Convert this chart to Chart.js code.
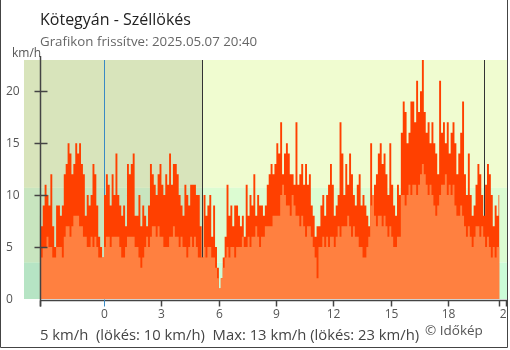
<!DOCTYPE html>
<html lang="hu">
<head>
<meta charset="utf-8">
<title>Kötegyán - Széllökés</title>
<script src="https://cdn.jsdelivr.net/npm/chart.js@4/dist/chart.umd.min.js"></script>
<style>
  html, body { margin: 0; padding: 0; background: #fff; }
</style>
</head>
<body>
<canvas id="windChart" width="510" height="350"></canvas>
<script>
const stationName = "Kötegyán";
const updatedAt = "2025.05.07 20:40";
const startHour = -(3 + 20 / 60);   // előző nap 20:40
const stepHours = 6 / 60;            // 6 perces mérések
const sunrise = 5.15;
const sunset = 19.87;
const yMax = 23;
const yTicks = [0, 5, 10, 15, 20];
const xTickHours = [0, 3, 6, 9, 12, 15, 18, 21];
const bandLimits = [3.5, 10.7];

// átlagszél, km/h
const windSpeed = [
  4, 4, 5, 5, 6, 5, 5, 4, 4, 5,
  5, 5, 4, 6, 7, 7, 6, 7, 8, 8,
  8, 7, 7, 6, 6, 5, 5, 6, 5, 6,
  5, 4, 4, 4, 5, 6, 6, 5, 6, 6,
  6, 6, 5, 4, 4, 5, 6, 6, 6, 6,
  5, 5, 4, 3, 4, 5, 6, 5, 6, 7,
  7, 6, 7, 6, 6, 5, 5, 5, 6, 6,
  7, 6, 6, 5, 6, 5, 5, 4, 5, 6,
  5, 6, 5, 4, 4, 4, 5, 4, 5, 5,
  4, 4, 3, 2, 1, 2, 3, 4, 5, 4,
  5, 5, 4, 5, 5, 5, 6, 5, 5, 6,
  5, 6, 6, 7, 6, 5, 6, 6, 7, 7,
  7, 7, 8, 8, 8, 8, 10, 11, 10, 9,
  9, 8, 10, 9, 8, 8, 7, 8, 7, 6,
  7, 7, 6, 5, 4, 2, 5, 5, 6, 5,
  6, 5, 6, 6, 5, 6, 7, 6, 7, 7,
  7, 8, 7, 6, 7, 6, 6, 5, 5, 4,
  4, 5, 6, 9, 10, 8, 7, 8, 8, 7,
  8, 7, 6, 7, 6, 5, 5, 6, 6, 10,
  10, 9, 10, 11, 10, 11, 11, 10, 11, 12,
  13, 12, 11, 10, 11, 10, 9, 8, 9, 10,
  11, 11, 12, 10, 11, 10, 11, 9, 8, 8,
  9, 8, 7, 6, 7, 6, 5, 6, 7, 7,
  6, 7, 6, 5, 6, 5, 4, 5, 4, 5, 5
];

// széllökés, km/h
const windGust = [
  8, 7, 9, 11, 10, 9, 12, 7, 5, 9,
  9, 8, 9, 12, 13, 15, 14, 12, 13, 15,
  14, 15, 13, 12, 8, 10, 9, 10, 13, 12,
  9, 6, 5, 4, 10, 12, 11, 9, 12, 10,
  14, 10, 9, 8, 9, 7, 13, 12, 13, 14,
  8, 8, 10, 7, 9, 8, 7, 9, 13, 12,
  11, 10, 12, 13, 11, 10, 12, 11, 14, 11,
  13, 13, 12, 10, 9, 8, 11, 10, 9, 11,
  11, 11, 10, 10, 7, 4, 10, 8, 9, 10,
  6, 9, 5, 3, 1, 2, 4, 6, 11, 8,
  9, 7, 9, 9, 8, 7, 8, 6, 11, 8,
  10, 9, 12, 8, 10, 9, 9, 8, 9, 11,
  12, 13, 12, 13, 15, 14, 17, 12, 14, 15,
  14, 12, 12, 11, 17, 11, 12, 13, 11, 13,
  11, 12, 9, 8, 6, 7, 7, 9, 10, 8,
  10, 11, 13, 11, 8, 9, 10, 17, 14, 10,
  13, 11, 14, 12, 10, 9, 11, 12, 9, 10,
  9, 8, 7, 15, 10, 11, 12, 14, 15, 13,
  14, 12, 10, 15, 11, 9, 8, 11, 10, 16,
  19, 18, 15, 16, 19, 19, 17, 21, 18, 20,
  23, 18, 16, 17, 15, 17, 15, 14, 12, 21,
  16, 17, 15, 17, 14, 16, 17, 15, 12, 14,
  16, 19, 12, 10, 14, 10, 8, 9, 11, 13,
  12, 10, 8, 11, 13, 12, 10, 7, 9, 8, 10
];

const toPoints = arr => arr.map((v, i) => ({ x: startHour + i * stepHours, y: v }));
const endHour = startHour + (windSpeed.length - 1) * stepHours;

const lastWind = windSpeed[windSpeed.length - 1];
const lastGust = windGust[windGust.length - 1];
const maxWind = Math.max(...windSpeed);
const maxGust = Math.max(...windGust);
const summaryText = lastWind + " km/h  (lökés: " + lastGust + " km/h)  Max: " +
  maxWind + " km/h (lökés: " + maxGust + " km/h)";

const FONT = "'Open Sans', 'Noto Sans', sans-serif";

// háttérsávok, éjszaka, napkelte/napnyugta vonalak, tengelyek, feliratok
const decor = {
  id: "decor",
  beforeDraw(chart) {
    const { ctx, chartArea: a, scales: { x, y } } = chart;
    const lo = y.getPixelForValue(bandLimits[0]);
    const hi = y.getPixelForValue(bandLimits[1]);
    const nightEnd = x.getPixelForValue(sunrise);
    const w = a.right - a.left;
    ctx.save();
    ctx.fillStyle = "#f0fcd0"; ctx.fillRect(a.left, a.top, w, hi - a.top);
    ctx.fillStyle = "#dcfcd2"; ctx.fillRect(a.left, hi, w, lo - hi);
    ctx.fillStyle = "#ccfcd8"; ctx.fillRect(a.left, lo, w, a.bottom - lo);
    const nw = nightEnd - a.left;
    ctx.fillStyle = "#d8e4bb"; ctx.fillRect(a.left, a.top, nw, hi - a.top);
    ctx.fillStyle = "#c8e5bf"; ctx.fillRect(a.left, hi, nw, lo - hi);
    ctx.fillStyle = "#b6e4c4"; ctx.fillRect(a.left, lo, nw, a.bottom - lo);
    ctx.restore();
  },
  beforeDatasetsDraw(chart) {
    const { ctx, chartArea: a, scales: { x } } = chart;
    ctx.save();
    ctx.lineWidth = 1;
    const vline = (h, color) => {
      const px = Math.round(x.getPixelForValue(h)) + 0.5;
      ctx.strokeStyle = color;
      ctx.beginPath(); ctx.moveTo(px, a.top); ctx.lineTo(px, a.bottom); ctx.stroke();
    };
    vline(0, "#3a8ac4");
    vline(sunrise, "#333");
    vline(sunset, "#333");
    ctx.restore();
  },
  afterDraw(chart) {
    const { ctx, chartArea: a, scales: { x, y } } = chart;
    const axisX = Math.round(x.getPixelForValue(startHour)) + 0.5;
    const axisY = a.bottom + 1.5;
    ctx.save();
    ctx.strokeStyle = "#444";
    ctx.lineWidth = 1.5;

    // y tengely
    ctx.beginPath(); ctx.moveTo(axisX, 56); ctx.lineTo(axisX, axisY + 6); ctx.stroke();
    ctx.fillStyle = "#555";
    ctx.font = "12px " + FONT;
    ctx.textBaseline = "middle";
    ctx.textAlign = "left";
    yTicks.forEach(v => {
      const py = Math.round(y.getPixelForValue(v)) + 0.5;
      if (v > 0) {
        ctx.beginPath(); ctx.moveTo(axisX - 6, py); ctx.lineTo(axisX + 7, py); ctx.stroke();
      }
      ctx.fillText(String(v), 6, py);
    });

    // x tengely
    ctx.beginPath(); ctx.moveTo(axisX, axisY); ctx.lineTo(a.right, axisY); ctx.stroke();
    [startHour, endHour].forEach(h => {
      const px = Math.round(x.getPixelForValue(h)) + 0.5;
      ctx.beginPath(); ctx.moveTo(px, axisY); ctx.lineTo(px, axisY + 6); ctx.stroke();
    });
    ctx.save();
    ctx.beginPath(); ctx.rect(0, 0, 507, 350); ctx.clip();
    ctx.textAlign = "center";
    xTickHours.forEach(h => {
      const px = Math.round(x.getPixelForValue(h)) + 0.5;
      ctx.strokeStyle = h === 0 ? "#3a8ac4" : "#444";
      ctx.lineWidth = h === 0 ? 1 : 1.5;
      ctx.beginPath(); ctx.moveTo(px, axisY - (h === 0 ? 1 : 0)); ctx.lineTo(px, axisY + 6); ctx.stroke();
      ctx.fillText(String(h), px, 315);
    });
    ctx.restore();

    // feliratok
    ctx.textBaseline = "alphabetic";
    ctx.textAlign = "left";
    ctx.fillStyle = "#222";
    ctx.font = "16px " + FONT;
    ctx.fillText(stationName + " - Széllökés", 40, 25);
    ctx.fillStyle = "#666";
    ctx.font = "13.3px " + FONT;
    ctx.fillText("Grafikon frissítve: " + updatedAt, 40, 45.5);
    ctx.fillStyle = "#555";
    ctx.font = "12px " + FONT;
    ctx.fillText("km/h", 12, 57);
    ctx.fillStyle = "#444";
    ctx.font = "14.8px " + FONT;
    ctx.fillText(summaryText, 40, 340);
    ctx.fillStyle = "#555";
    ctx.font = "13.5px " + FONT;
    ctx.fillText("© Időkép", 425, 335);

    // keret
    ctx.strokeStyle = "#444";
    ctx.lineWidth = 1;
    ctx.beginPath();
    ctx.moveTo(0.5, 0); ctx.lineTo(0.5, 347.5); ctx.lineTo(507.5, 347.5); ctx.lineTo(507.5, 0);
    ctx.stroke();
    ctx.restore();
  }
};

const ctx = document.getElementById("windChart").getContext("2d");

const windChart = new Chart(ctx, {
  type: "line",
  data: {
    datasets: [
      {
        label: "Szél",
        data: toPoints(windSpeed),
        backgroundColor: "#ff8040",
        borderColor: "rgba(0,0,0,0)",
        borderWidth: 0,
        pointRadius: 0,
        fill: "origin",
        stepped: "middle"
      },
      {
        label: "Széllökés",
        data: toPoints(windGust),
        backgroundColor: "#ff4000",
        borderColor: "rgba(0,0,0,0)",
        borderWidth: 0,
        pointRadius: 0,
        fill: "origin",
        stepped: "middle"
      }
    ]
  },
  options: {
    responsive: false,
    animation: false,
    events: [],
    layout: { padding: { left: 24, top: 60, right: 3, bottom: 51 } },
    scales: {
      x: { type: "linear", min: -4.16, max: 21.06, display: false },
      y: { min: 0, max: yMax, display: false }
    },
    plugins: {
      legend: { display: false },
      tooltip: { enabled: false }
    }
  },
  plugins: [decor]
});
</script>
</body>
</html>
